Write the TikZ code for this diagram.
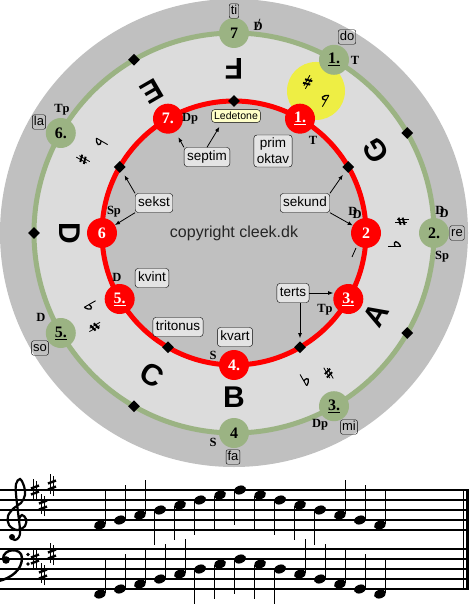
\documentclass[tikz,border=0pt]{standalone}
\usepackage{fontspec}
\setmainfont{Liberation Serif}
\setsansfont{Liberation Sans}
\usetikzlibrary{shapes.geometric, arrows.meta, positioning, calc}

\definecolor{ringgray}{HTML}{C0C0C0}
\definecolor{bandgray}{HTML}{DCDCDC}
\definecolor{sage}{HTML}{9BB383}
\definecolor{boxgray}{HTML}{E4E4E4}
\definecolor{ledeyellow}{HTML}{FFFFC8}
\definecolor{hiyellow}{HTML}{EEEE44}

\newcommand{\dblD}{D\kern-0.4em\raisebox{-0.25em}{D}}
\newcommand{\slashD}{D\kern-0.45em\raisebox{0.2em}{/}}

\tikzset{
    keysharp/.pic={
        \draw[line width=0.9pt] (-1.8,-9) -- (-1.8,11) (1.8,-11) -- (1.8,9);
        \draw[line width=2.4pt] (-4,1.5) -- (4,4.5) (-4,-4.5) -- (4,-1.5);
    },
    ringsharp/.pic={
        \draw[line width=0.8pt] (-1.4,-5) -- (-1.4,7) (1.4,-7) -- (1.4,5);
        \draw[line width=1.9pt] (-3.6,1) -- (3.6,3) (-3.6,-3) -- (3.6,-1);
    },
    ringflat/.pic={
        \draw[line width=0.9pt] (-2,-4) -- (-2,9);
        \draw[line width=1.3pt] (-2,-4) .. controls (4,-1) and (4.5,4) .. (-2,1.5);
    },
    trebleclef/.pic={
        \draw[line width=2.2pt, line cap=round] plot[smooth, tension=0.6] coordinates {(19,-29) (22,-25) (26,-29) (25,-36) (17,-40) (9,-35) (8,-26) (14,-18) (21,-13) (25,-5) (24,4) (20,11) (16,6) (16,-4) (18,-22) (20,-40) (19,-47) (15,-50) (11,-48)};
        \fill (12,-47) circle (3);
    },
    bassclef/.pic={
        \fill (6,-11) circle (3.8);
        \draw[line width=2.4pt] (3,-10) .. controls (3,1) and (22,2) .. (22,-9) .. controls (22,-21) and (11,-29) .. (-1,-32);
        \fill (28,-5.5) circle (1.8);
        \fill (28,-15) circle (1.8);
    },
}

\begin{document}
\begin{tikzpicture}[x=1pt, y=1pt,
    rednode/.style={circle, fill=red, text=white, font=\fontsize{16}{16}\selectfont\bfseries, minimum size=30pt, inner sep=0pt},
    greennode/.style={circle, fill=sage, text=black, font=\fontsize{16}{16}\selectfont\bfseries, minimum size=30pt, inner sep=0pt},
    semitone/.style={diamond, fill=black, minimum width=12pt, minimum height=12pt, inner sep=0pt},
    func/.style={font=\fontsize{12.5}{12.5}\selectfont\bfseries, inner sep=0pt},
    solfa/.style={draw=black, rounded corners=2pt, font=\sffamily\fontsize{13}{13}\selectfont, inner sep=1.5pt, text height=9pt, text depth=2.5pt},
    intervalbox/.style={draw=black, fill=boxgray, rounded corners=3pt, font=\sffamily\fontsize{13.5}{16}\selectfont, inner sep=3pt, align=center},
    interval/.style={intervalbox, text height=10pt, text depth=3pt},
    tone/.style={font=\sffamily\bfseries\fontsize{30}{30}\selectfont, inner sep=0pt},
    arrow/.style={-{Latex[length=5pt, width=4pt]}, line width=0.8pt, draw=black}
]
\useasboundingbox (-234,233) rectangle (235,-382);

% rings
\fill[ringgray] (0,0) circle (234);
\fill[bandgray] (0,0) circle (200);
\fill[ringgray] (0,0) circle (132);
\fill[hiyellow] (60:164) circle (29);
\draw[sage, line width=5pt] (0,0) circle (200);
\draw[red, line width=5pt] (0,0) circle (132);

% inner ring
\node[rednode] (r1) at (60:132) {\underline{1.}};
\node[rednode] (r2) at (0:132) {2};
\node[rednode] (r3) at (-30:132) {\underline{3.}};
\node[rednode] (r4) at (-90:132) {4.};
\node[rednode] (r5) at (-150:132) {\underline{5.}};
\node[rednode] (r6) at (180:132) {6};
\node[rednode] (r7) at (120:132) {7.};
\node[semitone] (d90) at (90:132) {};
\node[semitone] (d30) at (30:132) {};
\node[semitone] (dm60) at (-60:132) {};
\node[semitone] (dm120) at (-120:132) {};
\node[semitone] (d150) at (150:132) {};

\node[func] (fr7) at (-44,114) {Dp};
\node[func] (fr1) at (79,93) {T};
\node[func] (fr2) at (121,20) {\dblD};
\node[func] (fr3) at (91,-77) {Tp};
\node[func] (fr4) at (-21,-122) {S};
\node[func] (fr5) at (-117,-44) {D};
\node[func] (fr6) at (-120,21) {Sp};

% outer ring
\node[greennode] (g7) at (90:200) {7};
\node[greennode] (g1) at (60:200) {\underline{1.}};
\node[greennode] (g2) at (0:200) {2.};
\node[greennode] (g3) at (-60:200) {\underline{3.}};
\node[greennode] (g4) at (-90:200) {4};
\node[greennode] (g5) at (-150:200) {\underline{5.}};
\node[greennode] (g6) at (150:200) {6.};
\node[semitone] (gd30) at (30:200) {};
\node[semitone] (gdm30) at (-30:200) {};
\node[semitone] (gdm120) at (-120:200) {};
\node[semitone] (gd180) at (180:200) {};
\node[semitone] (gd120) at (120:200) {};

\node[func] (fg7) at (23,208) {\slashD};
\node[func] (fg1) at (121,173) {T};
\node[func] (fg2a) at (208,21) {\dblD};
\node[func] (fg2b) at (208,-24) {Sp};
\node[func] (fg3) at (86,-192) {Dp};
\node[func] (fg4) at (-21,-209) {S};
\node[func] (fg5) at (-193,-84) {D};
\node[func] (fg6) at (-172,123) {Tp};

\node[solfa] (ti) at (0,222) {ti};
\node[solfa] (do) at (113,196) {do};
\node[solfa] (re) at (223,0) {re};
\node[solfa] (mi) at (115,-194) {mi};
\node[solfa] (fa) at (-1,-224) {fa};
\node[solfa] (so) at (-194,-115) {so};
\node[solfa] (la) at (-195,111) {la};

% tone names
\node[tone, rotate=180] (toneF) at (90:164) {F};
\node[tone, rotate=120] (toneG) at (30:164) {G};
\node[tone, rotate=60] (toneA) at (-30:164) {A};
\node[tone] (toneB) at (-90:164) {B};
\node[tone, rotate=-30] (toneC) at (-120:164) {C};
\node[tone, rotate=-90] (toneD) at (180:164) {D};
\node[tone, rotate=210] (toneE) at (120:164) {E};

% accidentals
\pic[rotate=150] at (64:168) {ringsharp};
\pic[rotate=150] at (56:163) {ringflat};
\pic[rotate=90] at (4:168) {ringsharp};
\pic[rotate=90] at (-4:163) {ringflat};
\pic[rotate=30] at (-64:165) {ringflat};
\pic[rotate=30] at (-56:169) {ringsharp};
\pic[rotate=-60] at (-153:163) {ringflat};
\pic[rotate=-60] at (-146:168) {ringsharp};
\pic[rotate=240] at (146:163) {ringflat};
\pic[rotate=240] at (154:168) {ringsharp};
\draw[line width=0.8pt] (118,-24) -- (122,-15);

\node[font=\sffamily\fontsize{16}{16}\selectfont, text=black!85] (copy) at (0,0) {copyright cleek.dk};

% intervals
\node[intervalbox, fill=ledeyellow, font=\sffamily\fontsize{10.5}{11}\selectfont, inner sep=2.5pt] (ledetone) at (2,117) {Ledetone};
\node[interval] (septim) at (-27,76) {septim};
\node[intervalbox] (prim) at (39,82) {prim\\oktav};
\node[interval] (sekst) at (-80,30) {sekst};
\node[interval] (sekund) at (71,30) {sekund};
\node[interval] (kvint) at (-82,-45) {kvint};
\node[interval] (tritonus) at (-56,-94) {tritonus};
\node[interval] (kvart) at (1,-104) {kvart};
\node[interval] (terts) at (59,-60) {terts};

\draw[arrow, shorten >=6pt] (septim.north west) -- (r7);
\draw[arrow, shorten >=5pt] (septim.north) -- ([xshift=-14pt]ledetone.south);
\draw[arrow, shorten >=5pt] (sekst.north west) -- (d150);
\draw[arrow] (sekst.south west) -- (r6);
\draw[arrow, shorten >=5pt] (sekund.north east) -- (d30);
\draw[arrow] (sekund.south east) -- (r2);
\draw[arrow] (terts.east) -- (terts.east -| r3.west);
\draw[arrow, shorten >=3pt] (terts.south -| dm60) -- (dm60);

% treble staff
\begin{scope}[shift={(-234,-257)}]
    \foreach \l in {0,...,4}
        \draw[line width=1.3pt] (0,-10*\l) -- (469,-10*\l);
    \pic at (0,0) {trebleclef};
    \pic at (35,0) {keysharp};
    \pic at (43,-15) {keysharp};
    \pic at (52,5) {keysharp};
    \foreach \k [count=\i from 0] in {0,1,2,3,4,5,6,7,6,5,4,3,2,1,0} {
        \fill[shift={(100+20*\i,-35+5*\k)}, rotate=20] (0,0) ellipse (6.2 and 4.3);
        \ifnum\k<3
            \draw[line width=0.8pt] (105.5+20*\i,-34+5*\k) -- ++(0,34);
        \else
            \draw[line width=0.8pt] (94.5+20*\i,-36+5*\k) -- ++(0,-34);
        \fi
    }
\end{scope}

% bass staff
\begin{scope}[shift={(-234,-316)}]
    \foreach \l in {0,...,4}
        \draw[line width=1.3pt] (0,-10*\l) -- (469,-10*\l);
    \pic at (0,0) {bassclef};
    \pic at (35,-10) {keysharp};
    \pic at (43,-25) {keysharp};
    \pic at (52,-5) {keysharp};
    \foreach \k [count=\i from 0] in {0,1,2,3,4,5,6,7,6,5,4,3,2,1,0} {
        \fill[shift={(100+20*\i,-45+5*\k)}, rotate=20] (0,0) ellipse (6.2 and 4.3);
        \ifnum\k<5
            \draw[line width=0.8pt] (105.5+20*\i,-44+5*\k) -- ++(0,34);
        \else
            \draw[line width=0.8pt] (94.5+20*\i,-46+5*\k) -- ++(0,-34);
        \fi
    }
\end{scope}

% final bar
\draw[line width=1pt] (229.5,-256.4) -- (229.5,-356.6);
\draw[line width=3pt] (233.5,-256.4) -- (233.5,-356.6);

\end{tikzpicture}
\end{document}
